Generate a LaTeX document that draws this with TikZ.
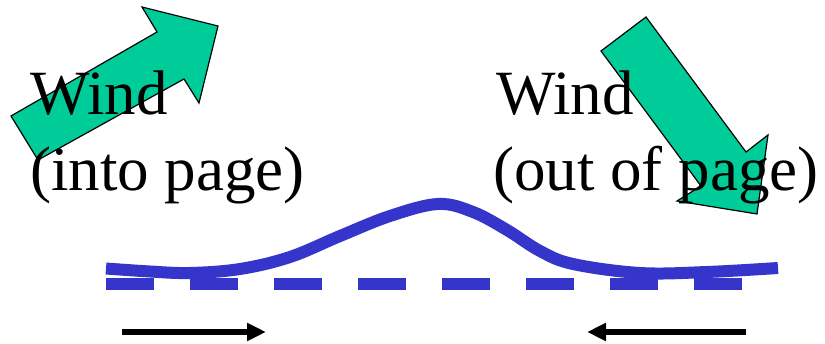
\documentclass[tikz,border=0pt]{standalone}
\usepackage{fontspec}
\setmainfont{Liberation Serif}
\usetikzlibrary{arrows.meta}
\definecolor{windgreen}{RGB}{0,204,153}
\definecolor{waveblue}{RGB}{53,53,204}
\tikzset{
  windarrow/.style={fill=windgreen, draw=black, line width=1.2pt, line join=miter},
  label/.style={font=\fontsize{63}{71}\selectfont, inner sep=0pt, anchor=base west},
  wave/.style={draw=waveblue, line width=12pt, line cap=butt},
  level/.style={draw=waveblue, line width=11.5pt, dash pattern=on 48pt off 36pt},
  flow/.style={draw=black, line width=6pt, -{Triangle[length=19pt,width=17pt]}}
}
\begin{document}
\begin{tikzpicture}[x=1pt,y=-1pt]
\useasboundingbox (0,0) rectangle (825,344);
% green wind arrows
\path[windarrow] (11,116) -- (157,32) -- (142,7) -- (218,26) -- (199,103) -- (184,79) -- (38,160) -- cycle;
\path[windarrow] (601,51) -- (646,17) -- (746,152) -- (768,135) -- (757,214) -- (677,201) -- (701,186) -- cycle;
% labels
\node[label] (w1) at (30,115) {Wind};
\node[label] (w1b) at (30,191) {(into page)};
\node[label] (w2) at (496,115) {Wind};
\node[label] (w2b) at (493,191) {(out of page)};
% wave surface
\draw[wave] plot[smooth, tension=0.6] coordinates {(106,268.5) (150,271.5) (190,273) (240,269) (290,257) (340,236) (390,216) (438,204) (473,212) (507,230) (540,251) (573,264) (640,273) (707,272) (778,268)};
% mean level
\coordinate (l1) at (106,284);
\coordinate (l2) at (742,284);
\draw[level] (l1) -- (l2);
% flows
\coordinate (a1s) at (122,332);
\coordinate (a1e) at (266,332);
\coordinate (a2s) at (746,332);
\coordinate (a2e) at (587,332);
\draw[flow] (a1s) -- (a1e);
\draw[flow] (a2s) -- (a2e);
\end{tikzpicture}
\end{document}
